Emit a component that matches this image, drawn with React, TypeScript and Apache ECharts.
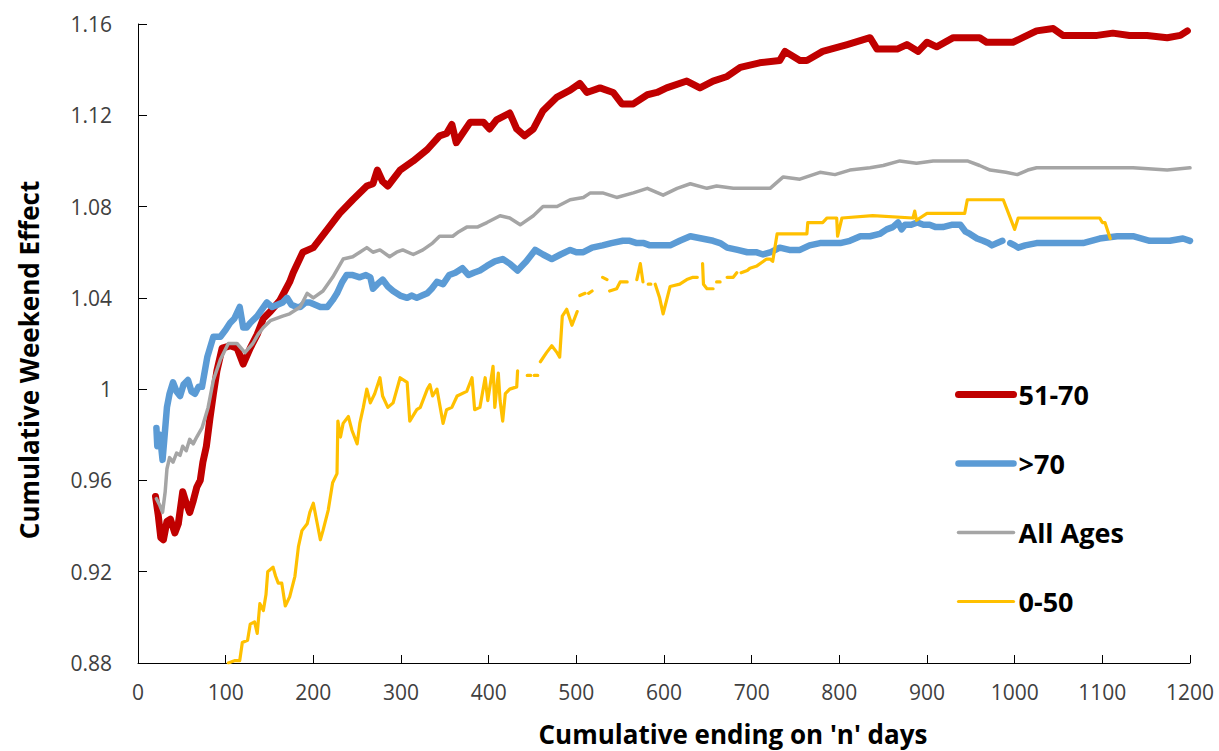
import React, { useEffect, useRef } from "react";
import * as echarts from "echarts";

const xTicks = [0, 100, 200, 300, 400, 500, 600, 700, 800, 900, 1000, 1100, 1200];
const yTicks = [0.88, 0.92, 0.96, 1.0, 1.04, 1.08, 1.12, 1.16];
const seriesNames = ["51-70", ">70", "All Ages", "0-50"];

const redX = [20, 23, 26, 29, 33, 37, 42, 46, 51, 55, 59, 63, 67, 71, 74, 78, 82, 86, 90, 96, 105, 113, 120, 128, 136, 143, 151, 162, 173, 177, 188, 200, 216, 230, 245, 261, 268, 273, 279, 285, 299, 314, 330, 344, 352, 358, 363, 379, 394, 401, 409, 424, 432, 441, 451, 462, 478, 493, 504, 512, 527, 542, 552, 565, 581, 592, 603, 626, 641, 656, 672, 687, 709, 732, 738, 755, 763, 781, 809, 835, 843, 866, 877, 890, 900, 911, 930, 960, 968, 998, 1009, 1025, 1044, 1055, 1094, 1112, 1131, 1151, 1174, 1189, 1197];
const redY = [0.953, 0.945, 0.935, 0.934, 0.942, 0.943, 0.937, 0.941, 0.955, 0.95, 0.946, 0.951, 0.957, 0.96, 0.968, 0.975, 0.987, 0.998, 1.008, 1.018, 1.019, 1.018, 1.011, 1.018, 1.024, 1.031, 1.034, 1.039, 1.047, 1.051, 1.06, 1.062, 1.07, 1.077, 1.083, 1.089, 1.09, 1.096, 1.091, 1.089, 1.096, 1.1, 1.105, 1.111, 1.112, 1.116, 1.108, 1.117, 1.117, 1.114, 1.118, 1.121, 1.114, 1.111, 1.114, 1.122, 1.128, 1.131, 1.134, 1.13, 1.132, 1.13, 1.125, 1.125, 1.129, 1.13, 1.132, 1.135, 1.132, 1.135, 1.137, 1.141, 1.143, 1.144, 1.148, 1.144, 1.144, 1.148, 1.151, 1.154, 1.149, 1.149, 1.151, 1.148, 1.152, 1.15, 1.154, 1.154, 1.152, 1.152, 1.154, 1.157, 1.158, 1.155, 1.155, 1.156, 1.155, 1.155, 1.154, 1.155, 1.157];

const blueX = [21, 22, 25, 28, 30, 33, 36, 40, 44, 48, 52, 57, 61, 65, 69, 73, 79, 86, 94, 100, 105, 110, 116, 120, 124, 128, 136, 147, 153, 159, 165, 170, 175, 181, 185, 191, 196, 202, 208, 216, 222, 227, 233, 238, 245, 253, 260, 265, 268, 273, 279, 285, 291, 299, 307, 312, 318, 324, 330, 335, 341, 348, 355, 362, 370, 377, 383, 390, 398, 407, 416, 424, 433, 443, 453, 462, 472, 482, 493, 500, 508, 518, 530, 540, 553, 561, 569, 577, 584, 595, 607, 618, 630, 643, 656, 664, 672, 684, 695, 705, 713, 722, 732, 743, 755, 766, 778, 790, 801, 812, 824, 835, 846, 854, 861, 867, 871, 875, 882, 889, 896, 903, 910, 918, 928, 938, 944, 949, 957, 964, 970, 974, 980, 986, 990, 995, 1000, 1004, 1012, 1025, 1040, 1060, 1078, 1097, 1117, 1135, 1154, 1177, 1192, 1200];
const blueY = [0.983, 0.975, 0.98, 0.969, 0.978, 0.992, 0.998, 1.003, 0.999, 0.997, 1.002, 1.004, 0.999, 0.998, 1.001, 1.001, 1.014, 1.023, 1.023, 1.026, 1.029, 1.031, 1.036, 1.027, 1.027, 1.029, 1.032, 1.038, 1.036, 1.037, 1.038, 1.04, 1.037, 1.036, 1.036, 1.038, 1.038, 1.037, 1.036, 1.036, 1.039, 1.042, 1.047, 1.05, 1.05, 1.049, 1.05, 1.049, 1.044, 1.046, 1.048, 1.045, 1.043, 1.041, 1.04, 1.041, 1.04, 1.041, 1.042, 1.044, 1.047, 1.046, 1.05, 1.051, 1.053, 1.05, 1.051, 1.052, 1.054, 1.056, 1.057, 1.055, 1.052, 1.056, 1.061, 1.059, 1.057, 1.059, 1.061, 1.06, 1.06, 1.062, 1.063, 1.064, 1.065, 1.065, 1.064, 1.064, 1.063, 1.063, 1.063, 1.065, 1.067, 1.066, 1.065, 1.064, 1.062, 1.061, 1.06, 1.06, 1.059, 1.06, 1.062, 1.061, 1.061, 1.063, 1.064, 1.064, 1.064, 1.065, 1.067, 1.067, 1.068, 1.07, 1.071, 1.073, 1.07, 1.072, 1.072, 1.073, 1.072, 1.072, 1.071, 1.071, 1.072, 1.072, 1.069, 1.068, 1.066, 1.065, 1.064, 1.063, 1.064, 1.065, null, 1.064, 1.063, 1.062, 1.063, 1.064, 1.064, 1.064, 1.064, 1.066, 1.067, 1.067, 1.065, 1.065, 1.066, 1.065];

const grayX = [21, 25, 28, 31, 33, 36, 40, 44, 48, 51, 55, 59, 63, 67, 73, 80, 86, 94, 103, 113, 122, 131, 137, 143, 151, 158, 165, 173, 181, 185, 193, 200, 211, 222, 234, 245, 253, 261, 268, 276, 287, 295, 302, 314, 325, 336, 344, 359, 366, 375, 387, 398, 413, 424, 436, 451, 462, 478, 493, 508, 516, 530, 546, 565, 581, 599, 615, 630, 649, 660, 679, 702, 721, 736, 755, 778, 795, 812, 835, 850, 869, 888, 907, 926, 946, 960, 972, 990, 1003, 1015, 1025, 1060, 1097, 1135, 1174, 1200];
const grayY = [0.952, 0.949, 0.946, 0.955, 0.965, 0.97, 0.968, 0.972, 0.971, 0.975, 0.973, 0.978, 0.976, 0.979, 0.983, 0.992, 1.004, 1.013, 1.02, 1.02, 1.016, 1.02, 1.024, 1.027, 1.03, 1.031, 1.032, 1.033, 1.035, 1.036, 1.042, 1.04, 1.043, 1.049, 1.057, 1.058, 1.06, 1.062, 1.06, 1.061, 1.058, 1.06, 1.061, 1.059, 1.061, 1.064, 1.067, 1.067, 1.069, 1.071, 1.071, 1.073, 1.076, 1.075, 1.072, 1.076, 1.08, 1.08, 1.083, 1.084, 1.086, 1.086, 1.084, 1.086, 1.088, 1.085, 1.088, 1.09, 1.088, 1.089, 1.088, 1.088, 1.088, 1.093, 1.092, 1.095, 1.094, 1.096, 1.097, 1.098, 1.1, 1.099, 1.1, 1.1, 1.1, 1.098, 1.096, 1.095, 1.094, 1.096, 1.097, 1.097, 1.097, 1.097, 1.096, 1.097];

const yellowX = [103, 110, 116, 119, 125, 128, 133, 136, 139, 143, 146, 148, 154, 157, 160, 164, 168, 173, 179, 183, 187, 193, 196, 200, 204, 208, 211, 217, 222, 227, 228, 231, 234, 240, 244, 250, 253, 257, 261, 265, 270, 276, 279, 285, 291, 299, 307, 310, 318, 322, 330, 333, 336, 341, 348, 352, 358, 364, 375, 381, 384, 390, 396, 399, 405, 407, 411, 413, 416, 419, 424, 432, 433, 438, 444, 448, 450, 452, 456, 458, 459, 466, 472, 478, 481, 483, 484, 489, 495, 501, 502, 504, 510, 512, 514, 518, 524, 530, 535, 536, 538, 546, 550, 558, 563, 569, 573, 576, 579, 582, 585, 587, 590, 595, 599, 603, 607, 618, 626, 633, 638, 641, 644, 645, 649, 656, 658, 660, 664, 668, 672, 679, 683, 685, 688, 695, 698, 706, 717, 721, 724, 729, 740, 763, 764, 781, 786, 797, 798, 803, 838, 884, 886, 888, 900, 943, 946, 987, 1000, 1004, 1097, 1100, 1103, 1109];
const yellowY = [0.88, 0.881, 0.881, 0.889, 0.89, 0.897, 0.898, 0.893, 0.906, 0.903, 0.91, 0.92, 0.922, 0.918, 0.915, 0.915, 0.905, 0.909, 0.918, 0.931, 0.938, 0.941, 0.946, 0.95, 0.942, 0.934, 0.938, 0.947, 0.959, 0.963, 0.986, 0.979, 0.985, 0.988, 0.982, 0.976, 0.985, 0.992, 1.0, 0.994, 0.998, 1.005, 0.997, 0.992, 0.994, 1.005, 1.003, 0.986, 0.991, 0.992, 1.0, 1.002, 0.997, 1.0, 0.985, 0.991, 0.992, 0.997, 0.999, 1.005, 0.991, 0.992, 1.005, 0.995, 1.01, 0.992, 1.007, 0.995, 0.986, 0.998, 1.0, 1.001, 1.008, null, 1.006, 1.006, null, 1.006, 1.006, null, 1.012, 1.016, 1.019, 1.016, 1.014, 1.026, 1.032, 1.035, 1.028, 1.034, null, 1.041, 1.042, null, 1.042, 1.043, null, 1.049, 1.048, null, 1.043, 1.044, 1.047, 1.047, null, 1.048, 1.055, 1.047, null, 1.046, 1.046, null, 1.046, 1.04, 1.033, 1.039, 1.045, 1.046, 1.048, 1.049, 1.049, null, 1.055, 1.046, 1.044, 1.044, null, 1.047, 1.047, null, 1.049, 1.049, 1.051, null, 1.051, 1.052, 1.053, 1.054, 1.057, 1.057, 1.056, 1.068, 1.068, 1.068, 1.073, 1.073, 1.075, 1.075, 1.067, 1.075, 1.076, 1.075, 1.078, 1.074, 1.077, 1.077, 1.083, 1.083, 1.07, 1.075, 1.075, 1.073, 1.073, 1.066];

const zip = (xs: number[], ys: (number | null)[]) => xs.map((x, i) => [x, ys[i] === null ? null : ys[i]]);

const FONT = "'Open Sans', 'Liberation Sans', sans-serif";

export default function App() {
  const ref = useRef<HTMLDivElement>(null);
  useEffect(() => {
    if (!ref.current) return;
    const chart = echarts.init(ref.current, undefined, { renderer: "svg" });
    const mk = (name: string, xs: number[], ys: (number | null)[], color: string, width: number) => ({
      name,
      type: "line",
      data: zip(xs, ys),
      showSymbol: false,
      symbol: "none",
      connectNulls: false,
      lineStyle: { color, width, cap: "round", join: "round" },
      itemStyle: { color },
    });
    chart.setOption({
      animation: false,
      backgroundColor: "#ffffff",
      grid: { left: 138, right: 29, top: 24, bottom: 88, containLabel: false },
      xAxis: {
        type: "value",
        min: xTicks[0],
        max: xTicks[xTicks.length - 1],
        interval: 100,
        axisLine: { show: true, lineStyle: { color: "#000", width: 1 } },
        axisTick: { show: true, inside: true, length: 8, lineStyle: { color: "#000" } },
        splitLine: { show: false },
        axisLabel: {
          color: "#404040",
          fontFamily: FONT,
          fontSize: 21,
          margin: 18,
          formatter: (v: number) => String(Math.round(v)),
        },
      },
      yAxis: {
        type: "value",
        min: yTicks[0],
        max: yTicks[yTicks.length - 1],
        interval: 0.04,
        axisLine: { show: true, lineStyle: { color: "#000", width: 1 } },
        axisTick: { show: true, inside: true, length: 9, lineStyle: { color: "#000" } },
        splitLine: { show: false },
        axisLabel: {
          color: "#404040",
          fontFamily: FONT,
          fontSize: 21,
          margin: 26,
          formatter: (v: number) => String(+v.toFixed(2)),
        },
      },
      legend: {
        show: true,
        orient: "vertical",
        left: 955,
        top: 381,
        padding: 0,
        itemWidth: 55,
        itemHeight: 14,
        itemGap: 42,
        data: seriesNames,
        itemStyle: { opacity: 0 },
        lineStyle: { width: "inherit", cap: "round" },
        textStyle: { fontFamily: FONT, fontSize: 27, fontWeight: "bold", color: "#000" },
      },
      series: [
        mk(seriesNames[0], redX, redY, "#C00000", 7),
        mk(seriesNames[1], blueX, blueY, "#5B9BD5", 6.5),
        mk(seriesNames[2], grayX, grayY, "#A5A5A5", 3.5),
        mk(seriesNames[3], yellowX, yellowY, "#FFC000", 3.2),
      ],
      graphic: [
        {
          type: "text",
          x: 29,
          y: 360,
          rotation: Math.PI / 2,
          style: {
            text: "Cumulative Weekend Effect",
            font: `bold 26px ${FONT}`,
            fill: "#000",
            textAlign: "center",
            textVerticalAlign: "middle",
          },
        },
        {
          type: "text",
          x: 733,
          y: 734,
          style: {
            text: "Cumulative ending on 'n' days",
            font: `bold 26px ${FONT}`,
            fill: "#000",
            textAlign: "center",
            textVerticalAlign: "middle",
          },
        },
      ],
    });
    return () => chart.dispose();
  }, []);
  return <div ref={ref} style={{ width: 1219, height: 751, position: "absolute", left: 0, top: 0 }} />;
}
